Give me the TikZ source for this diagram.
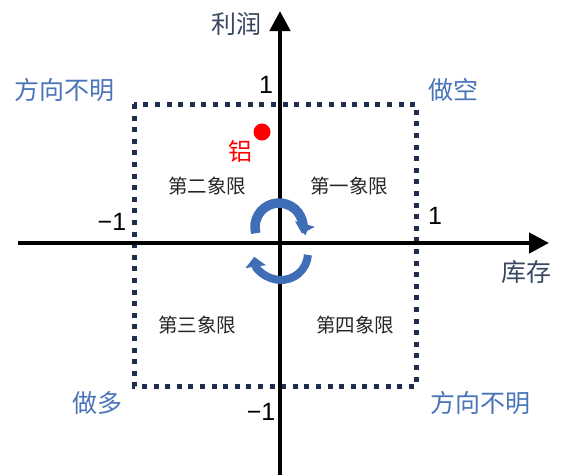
\documentclass[tikz,border=0pt]{standalone}
\usepackage{fontspec}
\setmainfont{Liberation Sans}
\newfontfamily\cjk{Noto Sans CJK SC}
\usetikzlibrary{arrows.meta}
\definecolor{lblblue}{HTML}{4A74BA}
\definecolor{navy}{HTML}{1F2E4E}
\definecolor{axtxt}{HTML}{3A4760}
\definecolor{cycblue}{HTML}{3F6EB6}
\begin{document}
\begin{tikzpicture}[x=1pt,y=-1pt,
  lbl/.style={font=\cjk\fontsize{25}{25}\selectfont, text=lblblue, inner sep=0pt},
  axlbl/.style={font=\cjk\fontsize{25}{25}\selectfont, text=axtxt, inner sep=0pt},
  quad/.style={font=\cjk\fontsize{19.5}{20}\selectfont, text=black!85, inner sep=0pt},
  num/.style={font=\fontsize{25}{25}\selectfont, text=black, inner sep=0pt},
  axis/.style={line width=4.5pt, -{Triangle[length=20pt,width=20pt]}},
  dotbox/.style={navy, line width=5pt, dash pattern=on 5pt off 6.6pt},
  cyc/.style={cycblue, -{Triangle[length=10pt,width=20pt]}}]
\useasboundingbox (0,0) rectangle (567,475);
% dotted box
\draw[dotbox] (134,104) rectangle (416,386);
% axes
\coordinate (xs) at (18,243);
\coordinate (xe) at (549,243);
\coordinate (ys) at (280,475);
\coordinate (ye) at (280,11);
\draw[axis] (xs) -- (xe);
\draw[axis] (ys) -- (ye);
% axis labels
\node[axlbl] (profit) at (236,24) {利润};
\node[axlbl] (stock) at (526,272) {库存};
% corner labels
\node[lbl] (tl) at (64,90) {方向不明};
\node[lbl] (tr) at (453,90) {做空};
\node[lbl] (bl) at (97,403) {做多};
\node[lbl] (br) at (480,403) {方向不明};
% numbers
\node[num] (ntop) at (266,85) {1};
\node[num] (nleft) at (112,222) {−1};
\node[num] (nright) at (435,216) {1};
\node[num] (nbot) at (261,412) {−1};
% quadrant labels
\node[quad] (q2) at (207,186) {第二象限};
\node[quad] (q1) at (349,186) {第一象限};
\node[quad] (q3) at (197,325) {第三象限};
\node[quad] (q4) at (355,325) {第四象限};
% aluminium point
\fill[red] (262,132) circle[radius=8.5];
\node[font=\cjk\fontsize{24}{24}\selectfont, text=red, inner sep=0pt] (al) at (240,151) {铝};
% cycle arrows
\coordinate (c1) at (279,227);
\coordinate (c2) at (281,253);
\draw[cyc, line width=9.5pt] ([shift={(165:24)}]c1) arc[start angle=165, end angle=376, radius=24];
\draw[cyc, line width=8pt] ([shift={(4:27)}]c2) arc[start angle=4, end angle=172, radius=27];
\end{tikzpicture}
\end{document}
